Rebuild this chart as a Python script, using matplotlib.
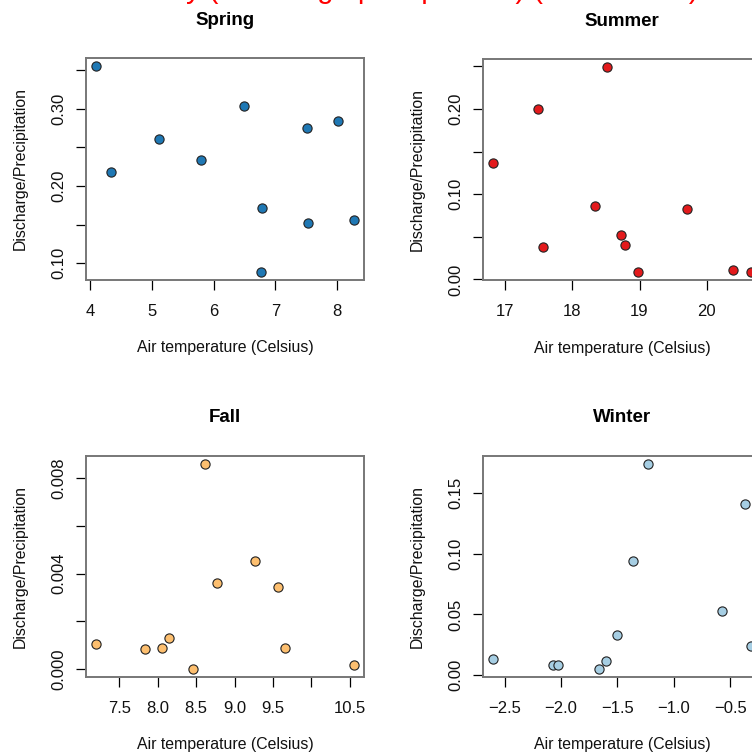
import numpy as np
import matplotlib
matplotlib.use('Agg')
import matplotlib.pyplot as plt

plt.rcParams['font.family'] = ['Liberation Sans', 'DejaVu Sans']

# values
spring_temp = [4.10, 4.34, 5.11, 5.80, 6.50, 6.79, 6.77, 7.52, 7.53, 8.01, 8.27]
spring_ratio = [0.355, 0.2175, 0.261, 0.233, 0.304, 0.171, 0.089, 0.275, 0.152, 0.284, 0.156]

summer_temp = [16.83, 17.49, 17.57, 18.34, 18.51, 18.72, 18.78, 18.98, 19.71, 20.39, 20.65]
summer_ratio = [0.137, 0.200, 0.038, 0.086, 0.249, 0.052, 0.041, 0.009, 0.083, 0.011, 0.009]

fall_temp = [7.20, 7.83, 8.06, 8.15, 8.46, 8.61, 8.77, 9.27, 9.56, 9.65, 10.55]
fall_ratio = [0.00105, 0.00082, 0.00089, 0.00131, 0.0, 0.00859, 0.00360, 0.00451, 0.00345, 0.00089, 0.00017]

winter_temp = [-2.60, -2.07, -2.03, -1.66, -1.60, -1.50, -1.36, -1.23, -0.57, -0.37, -0.32]
winter_ratio = [0.0134, 0.0080, 0.0080, 0.0052, 0.0117, 0.0334, 0.0944, 0.1738, 0.0528, 0.1410, 0.0238]

seasons = ['Spring', 'Summer', 'Fall', 'Winter']
colors = ['#1f78b4', '#e31a1c', '#fdbf6f', '#a6cee3']

# ticks (R drops labels that would overlap)
spring_xt = [4, 5, 6, 7, 8]
spring_yt = [0.10, 0.15, 0.20, 0.25, 0.30, 0.35]
spring_yl = ['0.10', '', '0.20', '', '0.30', '']
summer_xt = [17, 18, 19, 20]
summer_yt = [0.00, 0.05, 0.10, 0.15, 0.20, 0.25]
summer_yl = ['0.00', '', '0.10', '', '0.20', '']
fall_xt = [7.5, 8.0, 8.5, 9.0, 9.5, 10.0, 10.5]
fall_xl = ['7.5', '8.0', '8.5', '9.0', '9.5', '', '10.5']
fall_yt = [0.000, 0.002, 0.004, 0.006, 0.008]
fall_yl = ['0.000', '', '0.004', '', '0.008']
winter_xt = [-2.5, -2.0, -1.5, -1.0, -0.5]
winter_xl = ['\u22122.5', '\u22122.0', '\u22121.5', '\u22121.0', '\u22120.5']
winter_yt = [0.00, 0.05, 0.10, 0.15]
winter_yl = ['0.00', '0.05', '0.10', '0.15']

W, H = 752, 755
fig = plt.figure(figsize=(W / 100, H / 100), dpi=100)

# panel boxes in pixels: left, top, width, height
boxes = [(86, 58, 278, 222), (483, 59, 278, 221),
         (86, 456, 278, 221), (483, 456, 278, 221)]

data = [(spring_temp, spring_ratio, spring_xt, None, spring_yt, spring_yl),
        (summer_temp, summer_ratio, summer_xt, None, summer_yt, summer_yl),
        (fall_temp, fall_ratio, fall_xt, fall_xl, fall_yt, fall_yl),
        (winter_temp, winter_ratio, winter_xt, winter_xl, winter_yt, winter_yl)]

for (l, t, w, h), name, col, (xs, ys, xt, xl, yt, yl) in zip(boxes, seasons, colors, data):
    ax = fig.add_axes([l / W, (H - t - h) / H, w / W, h / H])
    ax.scatter(xs, ys, s=44, c=col, edgecolors='#222222', linewidths=0.8, zorder=3)
    ax.margins(0.04)
    ax.set_xticks(xt)
    if xl is not None:
        ax.set_xticklabels(xl)
    ax.set_yticks(yt)
    ax.set_yticklabels(yl)
    for sp in ax.spines.values():
        sp.set_color('#777777')
        sp.set_linewidth(1.4)
    ax.tick_params(direction='out', length=7, width=0.9, color='black',
                   labelsize=12, labelcolor='#111111')
    ax.tick_params(axis='x', pad=10)
    ax.tick_params(axis='y', pad=7, labelrotation=90)
    for lb in ax.get_yticklabels():
        lb.set_va('center')
    ax.set_xlabel('Air temperature (Celsius)', fontsize=11.4, color='#111111')
    ax.set_ylabel('Discharge/Precipitation', fontsize=11.4, color='#111111')
    ax.xaxis.set_label_coords(0.5, -68 / h)
    ax.xaxis.label.set_va('center')
    ax.yaxis.set_label_coords(-66 / w, 0.5)
    ax.yaxis.label.set_va('center')
    ax.set_title(name, fontsize=13.5, fontweight='bold', y=1 + 38 / h, va='center', pad=0)

# overall title, mostly cut off at the top edge
fig.text(-14 / W, 1 + 2 / H, 'Runoff efficiency (Discharge/precipitation) (all seasons)',
         color='red', fontsize=21, ha='left', va='baseline')

fig.savefig('out.png', dpi=100)
